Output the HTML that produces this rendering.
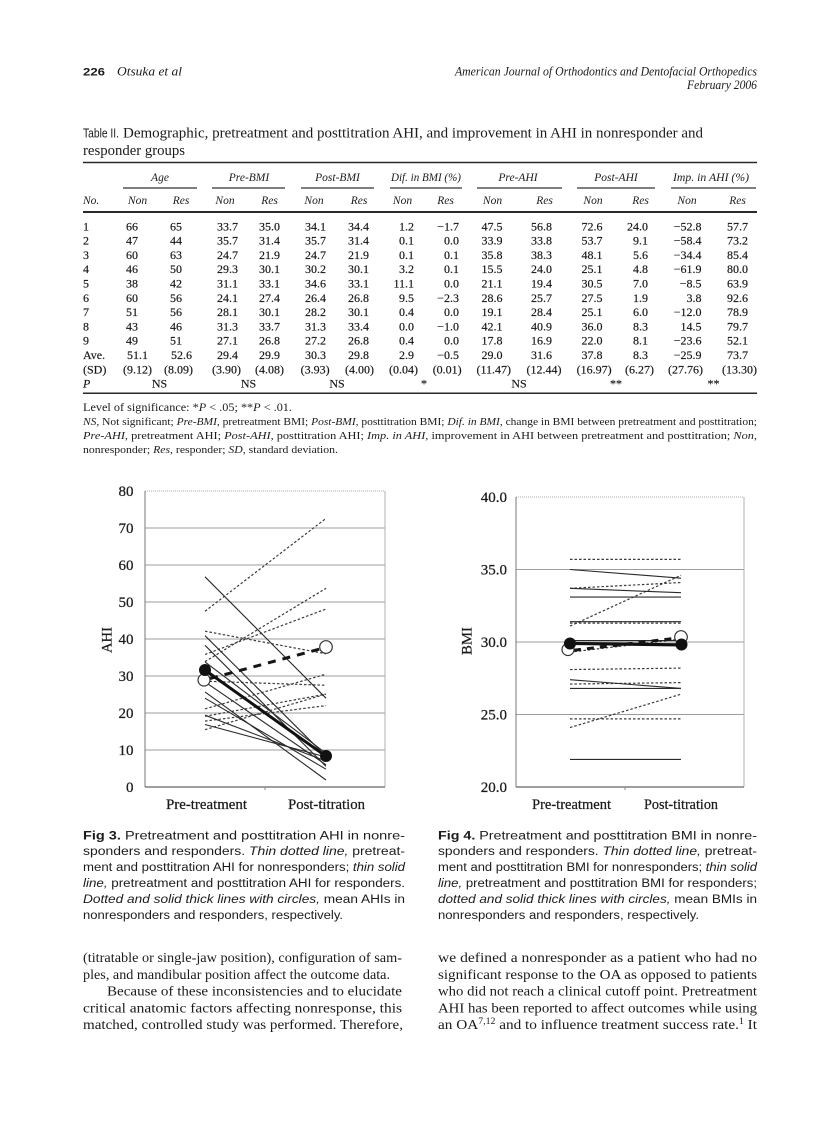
<!DOCTYPE html>
<html><head><meta charset="utf-8"><style>
html,body{margin:0;padding:0;background:#fff;}
svg{display:block}
.s{font-family:"Liberation Serif",serif;fill:#1b1b1b}
.a{font-family:"Liberation Sans",sans-serif;fill:#1b1b1b}
.i{font-style:italic}
.d{font-family:"Liberation Serif",serif;fill:#141414;font-size:12px;stroke:#141414;stroke-width:0.15}
.h{font-family:"Liberation Serif",serif;fill:#1b1b1b;font-size:11.5px;font-style:italic}
.tk{font-family:"Liberation Serif",serif;fill:#1b1b1b;font-size:15px;stroke:#1b1b1b;stroke-width:0.25}
</style></head><body>
<svg width="838" height="1122" viewBox="0 0 838 1122" xmlns="http://www.w3.org/2000/svg">
<rect width="838" height="1122" fill="#fff"/>

<!-- Running header -->
<text class="a" x="83" y="75.5" font-size="11" font-weight="bold" textLength="22" lengthAdjust="spacingAndGlyphs">226</text>
<text class="s i" x="117" y="75.5" font-size="12.5" textLength="65" lengthAdjust="spacingAndGlyphs">Otsuka et al</text>
<text class="s i" x="455" y="75.5" font-size="12.5" textLength="302" lengthAdjust="spacingAndGlyphs">American Journal of Orthodontics and Dentofacial Orthopedics</text>
<text class="s i" x="687" y="89" font-size="12.5" textLength="70" lengthAdjust="spacingAndGlyphs">February 2006</text>

<!-- Table title -->
<text class="a" x="83" y="137.5" font-size="12.5" textLength="36" lengthAdjust="spacingAndGlyphs">Table II.</text>
<text class="s" x="123" y="137.5" font-size="15" textLength="580" lengthAdjust="spacingAndGlyphs">Demographic, pretreatment and posttitration AHI, and improvement in AHI in nonresponder and</text>
<text class="s" x="83" y="155" font-size="15" textLength="102" lengthAdjust="spacingAndGlyphs">responder groups</text>

<!-- Table rules -->
<line x1="83" y1="162.5" x2="757" y2="162.5" stroke="#2a2a2a" stroke-width="1.5"/>
<line x1="83" y1="212" x2="757" y2="212" stroke="#2a2a2a" stroke-width="2"/>
<line x1="83" y1="393.3" x2="757" y2="393.3" stroke="#2a2a2a" stroke-width="1.5"/>
<g stroke="#333" stroke-width="1.2">
<line x1="123" y1="188" x2="197" y2="188"/>
<line x1="212" y1="188" x2="285" y2="188"/>
<line x1="301" y1="188" x2="374" y2="188"/>
<line x1="390" y1="188" x2="462" y2="188"/>
<line x1="477" y1="188" x2="562" y2="188"/>
<line x1="577" y1="188" x2="655" y2="188"/>
<line x1="671" y1="188" x2="756" y2="188"/>
</g>

<!-- Group headers -->
<g class="h" text-anchor="middle">
<text x="160" y="181">Age</text>
<text x="249" y="181">Pre-BMI</text>
<text x="337.5" y="181">Post-BMI</text>
<text x="426" y="181" textLength="70" lengthAdjust="spacingAndGlyphs">Dif. in BMI (%)</text>
<text x="518" y="181">Pre-AHI</text>
<text x="616" y="181">Post-AHI</text>
<text x="711" y="181" textLength="76" lengthAdjust="spacingAndGlyphs">Imp. in AHI (%)</text>
</g>
<g class="h">
<text x="83" y="204">No.</text>
</g>
<g class="h" text-anchor="middle">
<text x="137.5" y="204">Non</text><text x="181" y="204">Res</text>
<text x="225" y="204">Non</text><text x="269.5" y="204">Res</text>
<text x="314" y="204">Non</text><text x="359" y="204">Res</text>
<text x="402.5" y="204">Non</text><text x="445.5" y="204">Res</text>
<text x="492.5" y="204">Non</text><text x="544.5" y="204">Res</text>
<text x="593" y="204">Non</text><text x="640.5" y="204">Res</text>
<text x="687" y="204">Non</text><text x="737.5" y="204">Res</text>
</g>

<!-- No. column -->
<text class="d">
<tspan x="83" y="230.3">1</tspan><tspan x="83" y="244.6">2</tspan><tspan x="83" y="258.9">3</tspan><tspan x="83" y="273.2">4</tspan><tspan x="83" y="287.5">5</tspan><tspan x="83" y="301.8">6</tspan><tspan x="83" y="316.1">7</tspan><tspan x="83" y="330.4">8</tspan><tspan x="83" y="344.7">9</tspan><tspan x="83" y="359">Ave.</tspan><tspan x="83" y="373.3">(SD)</tspan><tspan x="83" y="387.6" font-style="italic">P</tspan>
</text>

<!-- Data columns -->
<text class="d" text-anchor="end">
<tspan x="138" y="230.3">66</tspan><tspan x="138" y="244.6">47</tspan><tspan x="138" y="258.9">60</tspan><tspan x="138" y="273.2">46</tspan><tspan x="138" y="287.5">38</tspan><tspan x="138" y="301.8">60</tspan><tspan x="138" y="316.1">51</tspan><tspan x="138" y="330.4">43</tspan><tspan x="138" y="344.7">49</tspan><tspan x="148" y="359">51.1</tspan>
</text>
<text class="d" text-anchor="end">
<tspan x="182" y="230.3">65</tspan><tspan x="182" y="244.6">44</tspan><tspan x="182" y="258.9">63</tspan><tspan x="182" y="273.2">50</tspan><tspan x="182" y="287.5">42</tspan><tspan x="182" y="301.8">56</tspan><tspan x="182" y="316.1">56</tspan><tspan x="182" y="330.4">46</tspan><tspan x="182" y="344.7">51</tspan><tspan x="192" y="359">52.6</tspan>
</text>
<text class="d" text-anchor="end">
<tspan x="238" y="230.3">33.7</tspan><tspan x="238" y="244.6">35.7</tspan><tspan x="238" y="258.9">24.7</tspan><tspan x="238" y="273.2">29.3</tspan><tspan x="238" y="287.5">31.1</tspan><tspan x="238" y="301.8">24.1</tspan><tspan x="238" y="316.1">28.1</tspan><tspan x="238" y="330.4">31.3</tspan><tspan x="238" y="344.7">27.1</tspan><tspan x="238" y="359">29.4</tspan>
</text>
<text class="d" text-anchor="end">
<tspan x="280" y="230.3">35.0</tspan><tspan x="280" y="244.6">31.4</tspan><tspan x="280" y="258.9">21.9</tspan><tspan x="280" y="273.2">30.1</tspan><tspan x="280" y="287.5">33.1</tspan><tspan x="280" y="301.8">27.4</tspan><tspan x="280" y="316.1">30.1</tspan><tspan x="280" y="330.4">33.7</tspan><tspan x="280" y="344.7">26.8</tspan><tspan x="280" y="359">29.9</tspan>
</text>
<text class="d" text-anchor="end">
<tspan x="326" y="230.3">34.1</tspan><tspan x="326" y="244.6">35.7</tspan><tspan x="326" y="258.9">24.7</tspan><tspan x="326" y="273.2">30.2</tspan><tspan x="326" y="287.5">34.6</tspan><tspan x="326" y="301.8">26.4</tspan><tspan x="326" y="316.1">28.2</tspan><tspan x="326" y="330.4">31.3</tspan><tspan x="326" y="344.7">27.2</tspan><tspan x="326" y="359">30.3</tspan>
</text>
<text class="d" text-anchor="end">
<tspan x="369" y="230.3">34.4</tspan><tspan x="369" y="244.6">31.4</tspan><tspan x="369" y="258.9">21.9</tspan><tspan x="369" y="273.2">30.1</tspan><tspan x="369" y="287.5">33.1</tspan><tspan x="369" y="301.8">26.8</tspan><tspan x="369" y="316.1">30.1</tspan><tspan x="369" y="330.4">33.4</tspan><tspan x="369" y="344.7">26.8</tspan><tspan x="369" y="359">29.8</tspan>
</text>
<text class="d" text-anchor="end">
<tspan x="414" y="230.3">1.2</tspan><tspan x="414" y="244.6">0.1</tspan><tspan x="414" y="258.9">0.1</tspan><tspan x="414" y="273.2">3.2</tspan><tspan x="414" y="287.5">11.1</tspan><tspan x="414" y="301.8">9.5</tspan><tspan x="414" y="316.1">0.4</tspan><tspan x="414" y="330.4">0.0</tspan><tspan x="414" y="344.7">0.4</tspan><tspan x="414" y="359">2.9</tspan>
</text>
<text class="d" text-anchor="end">
<tspan x="459" y="230.3">−1.7</tspan><tspan x="459" y="244.6">0.0</tspan><tspan x="459" y="258.9">0.1</tspan><tspan x="459" y="273.2">0.1</tspan><tspan x="459" y="287.5">0.0</tspan><tspan x="459" y="301.8">−2.3</tspan><tspan x="459" y="316.1">0.0</tspan><tspan x="459" y="330.4">−1.0</tspan><tspan x="459" y="344.7">0.0</tspan><tspan x="459" y="359">−0.5</tspan>
</text>
<text class="d" text-anchor="end">
<tspan x="502.5" y="230.3">47.5</tspan><tspan x="502.5" y="244.6">33.9</tspan><tspan x="502.5" y="258.9">35.8</tspan><tspan x="502.5" y="273.2">15.5</tspan><tspan x="502.5" y="287.5">21.1</tspan><tspan x="502.5" y="301.8">28.6</tspan><tspan x="502.5" y="316.1">19.1</tspan><tspan x="502.5" y="330.4">42.1</tspan><tspan x="502.5" y="344.7">17.8</tspan><tspan x="502.5" y="359">29.0</tspan>
</text>
<text class="d" text-anchor="end">
<tspan x="552" y="230.3">56.8</tspan><tspan x="552" y="244.6">33.8</tspan><tspan x="552" y="258.9">38.3</tspan><tspan x="552" y="273.2">24.0</tspan><tspan x="552" y="287.5">19.4</tspan><tspan x="552" y="301.8">25.7</tspan><tspan x="552" y="316.1">28.4</tspan><tspan x="552" y="330.4">40.9</tspan><tspan x="552" y="344.7">16.9</tspan><tspan x="552" y="359">31.6</tspan>
</text>
<text class="d" text-anchor="end">
<tspan x="602.5" y="230.3">72.6</tspan><tspan x="602.5" y="244.6">53.7</tspan><tspan x="602.5" y="258.9">48.1</tspan><tspan x="602.5" y="273.2">25.1</tspan><tspan x="602.5" y="287.5">30.5</tspan><tspan x="602.5" y="301.8">27.5</tspan><tspan x="602.5" y="316.1">25.1</tspan><tspan x="602.5" y="330.4">36.0</tspan><tspan x="602.5" y="344.7">22.0</tspan><tspan x="602.5" y="359">37.8</tspan>
</text>
<text class="d" text-anchor="end">
<tspan x="648" y="230.3">24.0</tspan><tspan x="648" y="244.6">9.1</tspan><tspan x="648" y="258.9">5.6</tspan><tspan x="648" y="273.2">4.8</tspan><tspan x="648" y="287.5">7.0</tspan><tspan x="648" y="301.8">1.9</tspan><tspan x="648" y="316.1">6.0</tspan><tspan x="648" y="330.4">8.3</tspan><tspan x="648" y="344.7">8.1</tspan><tspan x="648" y="359">8.3</tspan>
</text>
<text class="d" text-anchor="end">
<tspan x="701.5" y="230.3">−52.8</tspan><tspan x="701.5" y="244.6">−58.4</tspan><tspan x="701.5" y="258.9">−34.4</tspan><tspan x="701.5" y="273.2">−61.9</tspan><tspan x="701.5" y="287.5">−8.5</tspan><tspan x="701.5" y="301.8">3.8</tspan><tspan x="701.5" y="316.1">−12.0</tspan><tspan x="701.5" y="330.4">14.5</tspan><tspan x="701.5" y="344.7">−23.6</tspan><tspan x="701.5" y="359">−25.9</tspan>
</text>
<text class="d" text-anchor="end">
<tspan x="748" y="230.3">57.7</tspan><tspan x="748" y="244.6">73.2</tspan><tspan x="748" y="258.9">85.4</tspan><tspan x="748" y="273.2">80.0</tspan><tspan x="748" y="287.5">63.9</tspan><tspan x="748" y="301.8">92.6</tspan><tspan x="748" y="316.1">78.9</tspan><tspan x="748" y="330.4">79.7</tspan><tspan x="748" y="344.7">52.1</tspan><tspan x="748" y="359">73.7</tspan>
</text>

<!-- SD row -->
<text class="d" text-anchor="end">
<tspan x="152" y="373.3">(9.12)</tspan><tspan x="193" y="373.3">(8.09)</tspan><tspan x="241" y="373.3">(3.90)</tspan><tspan x="284" y="373.3">(4.08)</tspan><tspan x="329.6" y="373.3">(3.93)</tspan><tspan x="374" y="373.3">(4.00)</tspan><tspan x="418" y="373.3">(0.04)</tspan><tspan x="461.7" y="373.3">(0.01)</tspan><tspan x="511" y="373.3">(11.47)</tspan><tspan x="561.5" y="373.3">(12.44)</tspan><tspan x="611.6" y="373.3">(16.97)</tspan><tspan x="654" y="373.3">(6.27)</tspan><tspan x="703" y="373.3">(27.76)</tspan><tspan x="757" y="373.3">(13.30)</tspan>
</text>
<!-- P row -->
<text class="d" text-anchor="middle">
<tspan x="159.5" y="387.6">NS</tspan><tspan x="248.5" y="387.6">NS</tspan><tspan x="337" y="387.6">NS</tspan><tspan x="424" y="387.6">*</tspan><tspan x="519" y="387.6">NS</tspan><tspan x="616" y="387.6">**</tspan><tspan x="713.5" y="387.6">**</tspan>
</text>

<!-- Notes -->
<text class="s" x="83" y="411" font-size="11.5" textLength="209" lengthAdjust="spacingAndGlyphs">Level of significance: *<tspan font-style="italic">P</tspan> &lt; .05; **<tspan font-style="italic">P</tspan> &lt; .01.</text>
<text class="s" x="83" y="425" font-size="11" textLength="674" lengthAdjust="spacingAndGlyphs"><tspan font-style="italic">NS,</tspan> Not significant; <tspan font-style="italic">Pre-BMI,</tspan> pretreatment BMI; <tspan font-style="italic">Post-BMI,</tspan> posttitration BMI; <tspan font-style="italic">Dif. in BMI,</tspan> change in BMI between pretreatment and posttitration;</text>
<text class="s" x="83" y="439" font-size="11" textLength="674" lengthAdjust="spacingAndGlyphs"><tspan font-style="italic">Pre-AHI,</tspan> pretreatment AHI; <tspan font-style="italic">Post-AHI,</tspan> posttitration AHI; <tspan font-style="italic">Imp. in AHI,</tspan> improvement in AHI between pretreatment and posttitration; <tspan font-style="italic">Non,</tspan></text>
<text class="s" x="83" y="453" font-size="11" textLength="255" lengthAdjust="spacingAndGlyphs">nonresponder; <tspan font-style="italic">Res,</tspan> responder; <tspan font-style="italic">SD,</tspan> standard deviation.</text>

<!-- ================= FIG 3 ================= -->
<g>
<g stroke="#9c9c9c" stroke-width="1">
<line x1="145" y1="750" x2="385" y2="750"/>
<line x1="145" y1="713" x2="385" y2="713"/>
<line x1="145" y1="676" x2="385" y2="676"/>
<line x1="145" y1="639" x2="385" y2="639"/>
<line x1="145" y1="602" x2="385" y2="602"/>
<line x1="145" y1="565" x2="385" y2="565"/>
<line x1="145" y1="528" x2="385" y2="528"/>
</g>
<line x1="145" y1="491" x2="385" y2="491" stroke="#aaa" stroke-width="1" stroke-dasharray="1,1"/>
<line x1="385" y1="491" x2="385" y2="787" stroke="#b0b0b0" stroke-width="1"/>
<line x1="145" y1="491" x2="145" y2="787" stroke="#777" stroke-width="1"/>
<line x1="145" y1="787" x2="385" y2="787" stroke="#666" stroke-width="1.2"/>
<line x1="265" y1="787" x2="265" y2="790" stroke="#888" stroke-width="1"/>

<g class="tk" text-anchor="end">
<text x="133.5" y="792">0</text>
<text x="133.5" y="755">10</text>
<text x="133.5" y="718">20</text>
<text x="133.5" y="681">30</text>
<text x="133.5" y="644">40</text>
<text x="133.5" y="607">50</text>
<text x="133.5" y="570">60</text>
<text x="133.5" y="533">70</text>
<text x="133.5" y="496">80</text>
</g>
<text class="tk" transform="translate(111.5,640) rotate(-90)" text-anchor="middle" textLength="26" lengthAdjust="spacingAndGlyphs">AHI</text>
<text class="tk" x="166" y="809" textLength="81" lengthAdjust="spacingAndGlyphs">Pre-treatment</text>
<text class="tk" x="288" y="809" textLength="77" lengthAdjust="spacingAndGlyphs">Post-titration</text>

<g stroke="#3a3a3a" stroke-width="1.2" stroke-dasharray="2.5,2" fill="none">
<path d="M205,611.25 L326,518.4"/>
<path d="M205,661.6 L326,588.3"/>
<path d="M205,654.5 L326,609.0"/>
<path d="M205,729.65 L326,694.1"/>
<path d="M205,708.9 L326,674.15"/>
<path d="M205,681.2 L326,685.25"/>
<path d="M205,716.3 L326,694.1"/>
<path d="M205,631.2 L326,653.8"/>
<path d="M205,721.1 L326,705.6"/>
</g>
<g stroke="#2a2a2a" stroke-width="1.1" fill="none">
<path d="M205,576.8 L326,698.2"/>
<path d="M205,661.9 L326,753.3"/>
<path d="M205,645.3 L326,766.3"/>
<path d="M205,698.2 L326,769.2"/>
<path d="M205,715.2 L326,761.1"/>
<path d="M205,691.9 L326,780.0"/>
<path d="M205,681.9 L326,764.8"/>
<path d="M205,635.7 L326,756.3"/>
<path d="M205,724.5 L326,757.0"/>
</g>
<path d="M210,678.5 L320,649" stroke="#151515" stroke-width="3" stroke-dasharray="8,7" fill="none"/>
<path d="M205,670.1 L326,756.3" stroke="#111" stroke-width="3" fill="none"/>
<circle cx="204" cy="680" r="6" fill="#fff" stroke="#333" stroke-width="1.2"/>
<circle cx="326" cy="647" r="6.3" fill="#fff" stroke="#333" stroke-width="1.2"/>
<circle cx="205" cy="670" r="6" fill="#111"/>
<circle cx="326" cy="756" r="6" fill="#111"/>
</g>

<!-- ================= FIG 4 ================= -->
<g>
<g stroke="#9c9c9c" stroke-width="1">
<line x1="516" y1="714.5" x2="744" y2="714.5"/>
<line x1="516" y1="642" x2="744" y2="642"/>
<line x1="516" y1="569.5" x2="744" y2="569.5"/>
</g>
<line x1="516" y1="497" x2="744" y2="497" stroke="#aaa" stroke-width="1" stroke-dasharray="1,1"/>
<line x1="744" y1="497" x2="744" y2="787" stroke="#b0b0b0" stroke-width="1"/>
<line x1="516" y1="497" x2="516" y2="787" stroke="#777" stroke-width="1"/>
<line x1="516" y1="787" x2="744" y2="787" stroke="#666" stroke-width="1.2"/>
<line x1="625" y1="787" x2="625" y2="790" stroke="#888" stroke-width="1"/>

<g class="tk" text-anchor="end">
<text x="507" y="792">20.0</text>
<text x="507" y="719.5">25.0</text>
<text x="507" y="647">30.0</text>
<text x="507" y="574.5">35.0</text>
<text x="507" y="502">40.0</text>
</g>
<text class="tk" transform="translate(471.5,641) rotate(-90)" text-anchor="middle" textLength="28" lengthAdjust="spacingAndGlyphs">BMI</text>
<text class="tk" x="532" y="809" textLength="79" lengthAdjust="spacingAndGlyphs">Pre-treatment</text>
<text class="tk" x="644" y="809" textLength="74" lengthAdjust="spacingAndGlyphs">Post-titration</text>

<g stroke="#3a3a3a" stroke-width="1.2" stroke-dasharray="2.5,2" fill="none">
<path d="M570,588.35 L681,582.55"/>
<path d="M570,559.35 L681,559.35"/>
<path d="M570,718.85 L681,718.85"/>
<path d="M570,652.15 L681,639.1"/>
<path d="M570,626.05 L681,575.3"/>
<path d="M570,727.55 L681,694.2"/>
<path d="M570,669.55 L681,668.1"/>
<path d="M570,623.15 L681,623.15"/>
<path d="M570,684.05 L681,682.6"/>
</g>
<g stroke="#2a2a2a" stroke-width="1.1" fill="none">
<path d="M570,569.5 L681,578.2"/>
<path d="M570,621.7 L681,621.7"/>
<path d="M570,759.45 L681,759.45"/>
<path d="M570,640.55 L681,640.55"/>
<path d="M570,597.05 L681,597.05"/>
<path d="M570,679.7 L681,688.4"/>
<path d="M570,588.35 L681,592.7"/>
<path d="M570,688.4 L681,688.4"/>
</g>
<path d="M570,643.45 L681,644.9" stroke="#111" stroke-width="3.2" fill="none"/>
<path d="M574,650.2 L676,638.2" stroke="#151515" stroke-width="3" stroke-dasharray="7,6" fill="none"/>
<circle cx="568" cy="649.5" r="6" fill="#fff" stroke="#333" stroke-width="1.2"/>
<circle cx="681" cy="637" r="6.3" fill="#fff" stroke="#333" stroke-width="1.2"/>
<circle cx="570" cy="643.5" r="6" fill="#111"/>
<circle cx="681.5" cy="644.5" r="6" fill="#111"/>
</g>

<!-- ================= Captions ================= -->
<g class="a" font-size="11.5">
<text x="83" y="839.3" textLength="322" lengthAdjust="spacingAndGlyphs"><tspan font-weight="bold">Fig 3.</tspan> Pretreatment and posttitration AHI in nonre-</text>
<text x="83" y="855.2" textLength="322" lengthAdjust="spacingAndGlyphs">sponders and responders. <tspan font-style="italic">Thin dotted line,</tspan> pretreat-</text>
<text x="83" y="871.1" textLength="322" lengthAdjust="spacingAndGlyphs">ment and posttitration AHI for nonresponders; <tspan font-style="italic">thin solid</tspan></text>
<text x="83" y="887" textLength="322" lengthAdjust="spacingAndGlyphs"><tspan font-style="italic">line,</tspan> pretreatment and posttitration AHI for responders.</text>
<text x="83" y="902.9" textLength="322" lengthAdjust="spacingAndGlyphs"><tspan font-style="italic">Dotted and solid thick lines with circles,</tspan> mean AHIs in</text>
<text x="83" y="918.8" textLength="260" lengthAdjust="spacingAndGlyphs">nonresponders and responders, respectively.</text>

<text x="438" y="839.3" textLength="319" lengthAdjust="spacingAndGlyphs"><tspan font-weight="bold">Fig 4.</tspan> Pretreatment and posttitration BMI in nonre-</text>
<text x="438" y="855.2" textLength="319" lengthAdjust="spacingAndGlyphs">sponders and responders. <tspan font-style="italic">Thin dotted line,</tspan> pretreat-</text>
<text x="438" y="871.1" textLength="319" lengthAdjust="spacingAndGlyphs">ment and posttitration BMI for nonresponders; <tspan font-style="italic">thin solid</tspan></text>
<text x="438" y="887" textLength="319" lengthAdjust="spacingAndGlyphs"><tspan font-style="italic">line,</tspan> pretreatment and posttitration BMI for responders;</text>
<text x="438" y="902.9" textLength="319" lengthAdjust="spacingAndGlyphs"><tspan font-style="italic">dotted and solid thick lines with circles,</tspan> mean BMIs in</text>
<text x="438" y="918.8" textLength="261" lengthAdjust="spacingAndGlyphs">nonresponders and responders, respectively.</text>
</g>

<!-- ================= Body text ================= -->
<g class="s" font-size="14">
<text x="83" y="962" textLength="319" lengthAdjust="spacingAndGlyphs">(titratable or single-jaw position), configuration of sam-</text>
<text x="83" y="978.8" textLength="307" lengthAdjust="spacingAndGlyphs">ples, and mandibular position affect the outcome data.</text>
<text x="107" y="995.6" textLength="295" lengthAdjust="spacingAndGlyphs">Because of these inconsistencies and to elucidate</text>
<text x="83" y="1012.4" textLength="319" lengthAdjust="spacingAndGlyphs">critical anatomic factors affecting nonresponse, this</text>
<text x="83" y="1029.2" textLength="320" lengthAdjust="spacingAndGlyphs">matched, controlled study was performed. Therefore,</text>

<text x="438" y="962" textLength="319" lengthAdjust="spacingAndGlyphs">we defined a nonresponder as a patient who had no</text>
<text x="438" y="978.8" textLength="319" lengthAdjust="spacingAndGlyphs">significant response to the OA as opposed to patients</text>
<text x="438" y="995.6" textLength="319" lengthAdjust="spacingAndGlyphs">who did not reach a clinical cutoff point. Pretreatment</text>
<text x="438" y="1012.4" textLength="319" lengthAdjust="spacingAndGlyphs">AHI has been reported to affect outcomes while using</text>
<text x="438" y="1029.2" textLength="319" lengthAdjust="spacingAndGlyphs">an OA<tspan font-size="9" dy="-5">7,12</tspan><tspan dy="5"> and to influence treatment success rate.</tspan><tspan font-size="9" dy="-5">1</tspan><tspan dy="5"> It</tspan></text>
</g>
</svg>
</body></html>
